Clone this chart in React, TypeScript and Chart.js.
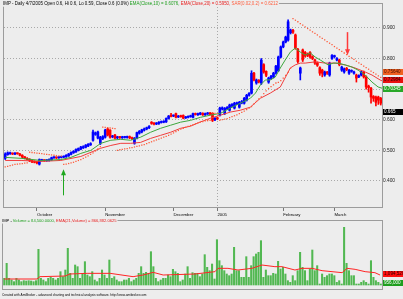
import React, { useEffect, useRef } from "react";
import { Chart, registerables } from "chart.js";
Chart.register(...registerables);

const N = 155;

const opens = [
.474,.486,.489,.490,.488,.491,.488,.484,.479,.474,
.471,.467,.464,.462,.455,.467,.468,.466,.467,.469,
.476,.477,.476,.477,.478,.479,.482,.487,.492,.495,
.500,.504,.508,.510,.514,.518,.533,.552,.540,.523,
.538,.543,.570,.566,.544,.550,.541,.544,.541,.542,
.542,.545,.541,.523,.540,.556,.560,.566,.570,.574,
.592,.589,.586,.588,.591,.592,.593,.604,.615,.612,
.620,.609,.613,.614,.606,.608,.610,.608,.620,.616,
.618,.621,.616,.619,.622,.621,.600,.606,.615,.635,
.620,.636,.631,.645,.638,.652,.641,.655,.654,.664,
.680,.687,.752,.720,.729,.720,.780,.758,.723,.735,
.740,.752,.760,.805,.838,.854,.860,.884,.892,.877,
.830,.752,.828,.820,.815,.820,.806,.795,.786,.770,
.762,.746,.755,.746,.800,.806,.795,.795,.762,.756,
.768,.752,.758,.752,.746,.740,.746,.756,.740,.710,
.703,.676,.674,.674,.670];

const closes = [
.488,.492,.491,.488,.491,.489,.484,.478,.474,.470,
.466,.462,.461,.459,.470,.469,.466,.468,.470,.476,
.477,.475,.478,.479,.480,.484,.488,.493,.497,.503,
.506,.511,.512,.517,.520,.522,.560,.557,.560,.543,
.545,.566,.550,.543,.546,.540,.543,.542,.544,.544,
.545,.541,.538,.540,.558,.562,.567,.570,.574,.578,
.588,.586,.589,.592,.594,.595,.604,.612,.611,.614,
.608,.612,.610,.605,.609,.611,.613,.620,.617,.620,
.622,.616,.620,.622,.618,.598,.605,.603,.638,.639,
.637,.640,.648,.650,.654,.655,.657,.660,.670,.680,
.686,.752,.730,.730,.724,.795,.756,.745,.736,.742,
.752,.775,.805,.838,.854,.870,.920,.893,.886,.834,
.790,.769,.795,.808,.810,.805,.800,.785,.778,.752,
.752,.756,.752,.785,.810,.808,.800,.780,.772,.766,
.764,.762,.760,.756,.736,.744,.756,.740,.707,.705,
.674,.670,.657,.664,.654];

const highs = [
.492,.495,.494,.492,.493,.492,.490,.486,.480,.476,
.473,.469,.466,.464,.472,.471,.470,.470,.472,.478,
.479,.479,.480,.481,.482,.486,.490,.495,.499,.505,
.508,.513,.515,.519,.522,.525,.566,.560,.563,.546,
.548,.569,.573,.568,.549,.552,.546,.546,.546,.546,
.547,.547,.543,.542,.560,.565,.569,.573,.576,.581,
.594,.591,.591,.594,.596,.597,.606,.614,.621,.616,
.622,.614,.615,.616,.611,.613,.615,.622,.622,.622,
.624,.623,.622,.624,.624,.623,.607,.608,.641,.642,
.640,.643,.651,.653,.657,.658,.660,.663,.673,.683,
.689,.760,.755,.733,.731,.800,.783,.760,.739,.745,
.755,.778,.808,.841,.857,.873,.926,.896,.895,.880,
.833,.772,.831,.823,.818,.823,.809,.798,.789,.773,
.765,.759,.758,.788,.813,.811,.803,.798,.775,.769,
.771,.765,.763,.759,.749,.747,.759,.759,.743,.713,
.706,.679,.677,.677,.673];

const lows = [
.470,.484,.487,.486,.486,.487,.482,.476,.472,.468,
.463,.460,.459,.456,.452,.465,.464,.464,.465,.467,
.474,.473,.474,.475,.476,.477,.480,.485,.490,.493,
.498,.502,.506,.508,.512,.516,.530,.549,.537,.519,
.535,.540,.547,.540,.541,.537,.538,.539,.539,.540,
.540,.538,.535,.520,.537,.553,.557,.563,.567,.571,
.585,.583,.584,.585,.589,.590,.591,.602,.609,.610,
.606,.607,.608,.603,.604,.606,.608,.606,.615,.614,
.616,.614,.614,.617,.616,.594,.597,.600,.612,.632,
.617,.633,.628,.642,.635,.649,.638,.652,.651,.661,
.677,.684,.727,.716,.720,.715,.752,.741,.719,.732,
.737,.749,.757,.802,.835,.851,.857,.880,.882,.830,
.785,.730,.790,.804,.806,.801,.796,.781,.774,.745,
.740,.742,.748,.742,.797,.803,.792,.776,.758,.752,
.760,.748,.755,.749,.723,.737,.743,.736,.700,.690,
.654,.660,.645,.650,.648];

const sarValues = [
.446,.448,.450,.452,.454,.455,.456,.457,.458,.459,
.494,.493,.492,.491,.490,.489,.488,.487,.486,.485,
.484,.483,.482,.481,.454,.455,.457,.459,.461,.464,
.467,.470,.474,.478,.482,.487,.492,.498,.505,.512,
.576,.575,.574,.573,.572,.571,.500,.502,.503,.505,
.506,.508,.509,.511,.513,.515,.517,.519,.522,.525,
.528,.531,.534,.537,.540,.543,.546,.549,.553,.557,
.561,.565,.569,.572,.575,.578,.581,.584,.587,.590,
.592,.594,.596,.597,.598,.622,.621,.620,.598,.600,
.602,.604,.607,.610,.613,.616,.620,.624,.628,.633,
.638,.643,.652,.660,.668,.675,.685,.694,.702,.708,
.714,.720,.722,.728,.736,.745,.755,.768,.930,.925,
.920,.914,.909,.903,.898,.893,.887,.882,.877,.871,
.866,.861,.855,.850,.845,.839,.834,.829,.823,.818,
.813,.807,.802,.797,.791,.786,.781,.775,.770,.765,
.759,.754,.749,.743,.738];

const ema10Index = [0,6.5,14.6,22.8,26.9,31,35.1,39.2,43.3,47.4,51.4,55.5,59.6,63.7,67.8,71.9,76,80.1,84.2,88.3,92.3,96.4,100.5,102.6,104.6,106.7,108.7,110.7,112.8,114.8,116.9,118.9,121,123,125.1,127.1,129.2,131.2,132.4,134.5,136.5,139.4,142.2,144.7,147.6,150.4,152.9,154.5];
const ema10Values = [.477,.474,.467,.470,.477,.490,.500,.523,.533,.536,.533,.543,.559,.572,.582,.592,.598,.608,.615,.621,.638,.654,.670,.687,.713,.730,.730,.739,.769,.795,.821,.834,.821,.811,.818,.805,.795,.785,.779,.785,.785,.779,.772,.762,.746,.723,.707,.703];

const ema20Index = [0,6.5,14.6,22.8,31,39.2,43.3,47.4,51.4,55.5,59.6,63.7,67.8,71.9,76,80.1,84.2,88.3,92.3,96.4,100.5,104.6,108.7,112.8,116.9,118.9,121,123,127.1,131.2,135.3,139.4,143.5,147.6,150.4,153.7,154.5];
const ema20Values = [.467,.467,.464,.467,.480,.507,.516,.523,.523,.526,.539,.549,.559,.572,.579,.593,.605,.615,.625,.631,.641,.670,.687,.707,.769,.779,.785,.785,.789,.785,.785,.779,.769,.756,.746,.730,.727];

const volumes = [
500000,1625000,500000,375000,250000,500000,375000,250000,325000,300000,
325000,300000,250000,325000,2675000,500000,375000,250000,500000,575000,
500000,375000,500000,1000000,625000,1125000,2750000,875000,500000,1500000,
1375000,500000,875000,1750000,750000,625000,1000000,375000,250000,500000,
1125000,750000,500000,1875000,500000,625000,375000,250000,250000,375000,
375000,500000,250000,375000,500000,875000,1375000,875000,950000,875000,
2500000,1375000,500000,250000,375000,500000,500000,750000,625000,1175000,
1000000,875000,250000,375000,825000,1375000,500000,925000,875000,875000,
625000,825000,2275000,1325000,1075000,1575000,450000,3400000,1825000,1450000,
1075000,825000,700000,825000,2825000,1075000,1075000,575000,575000,2125000,
575000,1450000,2125000,2325000,2450000,3325000,575000,1125000,700000,700000,
875000,825000,1775000,1200000,1325000,825000,325000,200000,700000,325000,
1075000,2450000,1325000,1075000,325000,1200000,2625000,1075000,1450000,75000,
825000,575000,700000,825000,825000,700000,200000,325000,75000,4325000,
1625000,1075000,700000,700000,75000,75000,200000,325000,200000,75000,
1825000,575000,325000,200000,75000];

const volEmaIndex = [0,13.4,14.6,24.9,26.9,33.9,43.3,52.7,56.8,60.9,65,78,86.2,87.4,91.5,95.6,101.3,105.4,110.7,113.6,118.9,121.8,125.9,130,138.2,140.2,143.5,147.6,151.6,153.7];
const volEmaValues = [450000,450000,625000,675000,825000,875000,875000,625000,750000,950000,750000,825000,1000000,1250000,1250000,1125000,1250000,1500000,1375000,1375000,1125000,1250000,1250000,1075000,925000,1250000,1175000,1000000,925000,750000];

const monthTickIndex = [13, 41, 69, 87, 114, 135];
const monthTickLabels = ["October", "November", "December", "2005", "February", "March"];
const yearTickIndex = 87;
const priceTicks = [0.4, 0.5, 0.6, 0.7, 0.8, 0.9];

const arrowIndex = [23.5, 140.2];
const arrowPrice = [0.438, 0.811];
const arrowDirection = ["up", "down"];

const priceLabelValues = [0.7564, 0.7298, 0.7006, 0.625];
const priceLabelTexts = ["0.75640", "0.72984", "0.70345", "0.665"];
const volLabelValues = [825000, 150000];
const volLabelTexts = ["1,094,520", "956,000"];

const titleParts = [
  "IMP - Daily 4/7/2005 Open 0.6, Hi 0.6, Lo 0.59, Close 0.6 (0.0%) ",
  "EMA(Close,10) = 0.6076,",
  " EMA(Close,20) = 0.5950,",
  " SAR(0.02,0.2) = 0.6212",
];
const volTitleParts = ["IMP - ", "Volume = 84,500.0000,", " EMA(21,Volume) = 866,882.0625"];
const footerText = "Created with AmiBroker - advanced charting and technical analysis software. http://www.amibroker.com";

// ---- styles ----
const BG = "#EDEDED";
const FRAME = "#9C9C9C";
const GRID = "#A9A9A9";
const FONT = "'Liberation Sans', Arial, sans-serif";
const UP = "#0000FF";
const DOWN = "#FF0000";
const EMA10_C = "#3DA63D";
const EMA20_C = "#F03C3C";
const SAR_C = "#FF5A3A";
const VOL_C = "#52B852";
const titleColors = ["#000000", "#1E9E1E", "#E82020", "#FF6040"];
const volTitleColors = ["#000000", "#1E9E1E", "#E82020"];
const priceLabelBg = ["#F06020", "#E81010", "#28A828", "#000000"];
const priceLabelFg = ["#401000", "#300000", "#FFFFFF", "#FFFFFF"];
const volLabelBg = ["#FF1010", "#1E9E1E"];
const volLabelFg = ["#300000", "#FFFFFF"];

function drawParts(ctx: CanvasRenderingContext2D, parts: string[], colors: string[], x: number, y: number, targetW: number, bg: boolean) {
  ctx.font = `10px ${FONT}`;
  const total = parts.reduce((s, p) => s + ctx.measureText(p).width, 0);
  const size = (10 * targetW) / total;
  ctx.font = `${size}px ${FONT}`;
  const widths = parts.map((p) => ctx.measureText(p).width);
  const w = widths.reduce((a, b) => a + b, 0);
  if (bg) {
    ctx.fillStyle = BG;
    ctx.fillRect(x - 1, y - size / 2 - 1, w + 2, size + 2);
  }
  ctx.textBaseline = "middle";
  ctx.textAlign = "left";
  let cx = x;
  parts.forEach((p, i) => {
    ctx.fillStyle = colors[i];
    ctx.fillText(p, cx, y);
    cx += widths[i];
  });
}

function drawValueLabels(ctx: CanvasRenderingContext2D, chart: any, values: number[], texts: string[], bgs: string[], fgs: string[]) {
  const a = chart.chartArea;
  const ys = chart.scales.y;
  ctx.font = `4.6px ${FONT}`;
  ctx.textBaseline = "middle";
  ctx.textAlign = "left";
  values.forEach((v, i) => {
    const y = ys.getPixelForValue(v);
    ctx.fillStyle = bgs[i];
    ctx.fillRect(a.right + 1, Math.round(y) - 3, 20, 6);
    ctx.fillStyle = fgs[i];
    ctx.fillText(texts[i], a.right + 2, y);
  });
}

const topDecor = {
  id: "topDecor",
  afterDatasetsDraw(chart: any) {
    const { ctx, scales } = chart;
    ctx.save();
    arrowIndex.forEach((idx, k) => {
      const x = Math.round(scales.x.getPixelForValue(idx)) + 0.5;
      const yt = scales.y.getPixelForValue(arrowPrice[k]);
      const up = arrowDirection[k] === "up";
      const dir = up ? 1 : -1;
      const col = up ? "#1FA81F" : "#FF3A3A";
      const len = up ? 26 : 23;
      ctx.strokeStyle = col;
      ctx.fillStyle = col;
      ctx.lineWidth = up ? 1 : 1.5;
      ctx.beginPath();
      ctx.moveTo(x, yt + dir * 4);
      ctx.lineTo(x, yt + dir * len);
      ctx.stroke();
      ctx.beginPath();
      ctx.moveTo(x, yt);
      ctx.lineTo(x - 2.5, yt + dir * 6);
      ctx.lineTo(x + 2.5, yt + dir * 6);
      ctx.closePath();
      ctx.fill();
    });
    ctx.restore();
  },
  afterDraw(chart: any) {
    const { ctx, chartArea: a } = chart;
    ctx.save();
    ctx.strokeStyle = FRAME;
    ctx.lineWidth = 1;
    ctx.strokeRect(a.left - 0.5, a.top - 0.5, a.right - a.left + 1, a.bottom - a.top + 1);
    drawParts(ctx, titleParts, titleColors, a.left - 1, a.top - 0.5, 276, true);
    drawValueLabels(ctx, chart, priceLabelValues, priceLabelTexts, priceLabelBg, priceLabelFg);
    ctx.restore();
  },
};

const volDecor = {
  id: "volDecor",
  afterDraw(chart: any) {
    const { ctx, chartArea: a } = chart;
    ctx.save();
    ctx.strokeStyle = FRAME;
    ctx.lineWidth = 1;
    ctx.strokeRect(a.left - 0.5, a.top - 0.5, a.right - a.left + 1, a.bottom - a.top + 1);
    drawParts(ctx, volTitleParts, volTitleColors, a.left - 1, a.top - 0.5, 115, true);
    drawValueLabels(ctx, chart, volLabelValues, volLabelTexts, volLabelBg, volLabelFg);
    drawParts(ctx, [footerText], ["#000000"], 2, a.bottom + 6, 145, false);
    ctx.restore();
  },
};

export default function App() {
  const topRef = useRef<HTMLCanvasElement>(null);
  const volRef = useRef<HTMLCanvasElement>(null);

  useEffect(() => {
    const idx = Array.from({ length: N }, (_, i) => i);
    const colors = idx.map((i) => (closes[i] >= opens[i] ? UP : DOWN));
    const top = new Chart(topRef.current!, {
      type: "bar",
      data: {
        datasets: [
          {
            type: "bar",
            data: idx.map((i) => ({ x: i, y: [lows[i], highs[i]] })) as any,
            backgroundColor: colors,
            barThickness: 1,
            grouped: false,
            order: 4,
          },
          {
            type: "bar",
            data: idx.map((i) => ({ x: i, y: [opens[i], closes[i]] })) as any,
            backgroundColor: colors,
            barThickness: 2,
            minBarLength: 1,
            grouped: false,
            order: 3,
          },
          {
            type: "line",
            data: ema20Index.map((x, k) => ({ x, y: ema20Values[k] })),
            borderColor: EMA20_C,
            borderWidth: 1,
            pointRadius: 0,
            order: 2,
          },
          {
            type: "line",
            data: ema10Index.map((x, k) => ({ x, y: ema10Values[k] })),
            borderColor: EMA10_C,
            borderWidth: 1,
            pointRadius: 0,
            order: 1,
          },
          {
            type: "line",
            data: idx.map((i) => ({ x: i, y: sarValues[i] })),
            showLine: false,
            pointStyle: "rect",
            pointRadius: 0.9,
            pointBorderWidth: 0,
            pointBackgroundColor: SAR_C,
            order: 0,
          },
        ] as any,
      },
      options: {
        animation: false,
        responsive: false,
        maintainAspectRatio: false,
        layout: { padding: { left: 3, right: 0, top: 4, bottom: 0 } },
        plugins: { legend: { display: false }, tooltip: { enabled: false } },
        scales: {
          x: {
            type: "linear",
            min: -0.5,
            max: N - 0.5,
            offset: false,
            afterBuildTicks: (s: any) => {
              s.ticks = monthTickIndex.map((v) => ({ value: v }));
            },
            afterFit: (s: any) => {
              s.height = 13;
            },
            ticks: {
              align: "start",
              autoSkip: false,
              maxRotation: 0,
              padding: 1,
              color: "#000",
              font: { size: 4.3, family: FONT },
              callback: (v: any) => monthTickLabels[monthTickIndex.indexOf(Number(v))],
            },
            grid: {
              offset: false,
              drawTicks: true,
              tickLength: 4,
              tickColor: "#777",
              color: (c: any) => (c.tick && c.tick.value === yearTickIndex ? GRID : "rgba(0,0,0,0)"),
            },
            border: { display: false, dash: [1, 2] },
          } as any,
          y: {
            type: "linear",
            position: "right",
            min: 0.315,
            max: 0.978,
            afterBuildTicks: (s: any) => {
              s.ticks = priceTicks.map((v) => ({ value: v }));
            },
            afterFit: (s: any) => {
              s.width = 21;
            },
            ticks: {
              padding: 1,
              color: "#222",
              font: { size: 4.8, family: FONT },
              callback: (v: any) => Number(v).toFixed(3),
            },
            grid: { drawTicks: false, color: GRID },
            border: { display: false, dash: [1, 2] },
          } as any,
        },
      },
      plugins: [topDecor],
    });

    const vol = new Chart(volRef.current!, {
      type: "bar",
      data: {
        datasets: [
          {
            type: "bar",
            data: idx.map((i) => ({ x: i, y: volumes[i] })) as any,
            backgroundColor: VOL_C,
            barThickness: 1.4,
            grouped: false,
            order: 2,
          },
          {
            type: "line",
            data: volEmaIndex.map((x, k) => ({ x, y: volEmaValues[k] })),
            borderColor: "#FF2424",
            borderWidth: 1,
            pointRadius: 0,
            order: 1,
          },
        ] as any,
      },
      options: {
        animation: false,
        responsive: false,
        maintainAspectRatio: false,
        layout: { padding: { left: 3, right: 21, top: 7, bottom: 10 } },
        plugins: { legend: { display: false }, tooltip: { enabled: false } },
        scales: {
          x: { type: "linear", min: -0.5, max: N - 0.5, offset: false, display: false } as any,
          y: { type: "linear", min: -300000, max: 4800000, display: false, beginAtZero: false } as any,
        },
      },
      plugins: [volDecor],
    });

    return () => {
      top.destroy();
      vol.destroy();
    };
  }, []);

  return (
    <div style={{ position: "fixed", left: 0, top: 0, width: 403, height: 299, background: BG, overflow: "hidden" }}>
      <canvas ref={topRef} width={403} height={220} style={{ position: "absolute", left: 0, top: 0, width: 403, height: 220 }} />
      <canvas ref={volRef} width={403} height={85} style={{ position: "absolute", left: 0, top: 214, width: 403, height: 85 }} />
    </div>
  );
}
